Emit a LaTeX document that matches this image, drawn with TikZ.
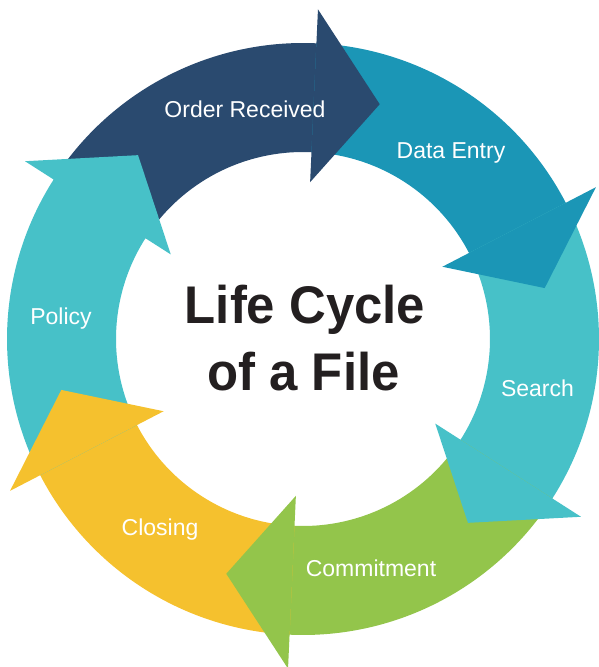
\documentclass[tikz,border=0pt]{standalone}
\usepackage{fontspec}
\setmainfont{Liberation Sans}
\newfontfamily\titlefont[FakeStretch=0.96]{Liberation Sans}
\begin{document}
\begin{tikzpicture}[x=1pt,y=1pt,
  steplabel/.style={text=white, anchor=base, inner sep=0pt,
    font=\fontsize{23}{26}\selectfont},
  titleline/.style={text=titleblack, anchor=base, inner sep=0pt,
    font=\titlefont\fontsize{53}{60}\selectfont\bfseries}]
\definecolor{orderblue}{HTML}{2A4A6F}
\definecolor{entryblue}{HTML}{1B96B6}
\definecolor{lightteal}{HTML}{47C1C8}
\definecolor{commitgreen}{HTML}{93C54B}
\definecolor{closeyellow}{HTML}{F5C12E}
\definecolor{titleblack}{HTML}{231F20}
\useasboundingbox (-303,-328) rectangle (296,339);

% ring geometry: outer / inner radius, barb radii, tip radius
\def\Rout{296}\def\Rin{187}
\def\Rbo{330}\def\Rbi{157}\def\Rtip{247}

% arc bodies: each runs from the previous segment's head base to a little
% past its own head base, so body and head join without a seam
\foreach \b/\c in {87.4/orderblue, 27.4/entryblue, -32.6/lightteal,
                   -92.6/commitgreen, -152.6/closeyellow, -212.6/lightteal}{
  \pgfmathsetmacro{\a}{\b+60}
  \pgfmathsetmacro{\e}{\b-1}
  \fill[\c] (\a:\Rout) arc[start angle=\a, end angle=\e, radius=\Rout]
     -- (\e:\Rin) arc[start angle=\e, end angle=\a, radius=\Rin] -- cycle;
}
% arrow heads, drawn over the start of the following segment
\foreach \b/\c in {87.4/orderblue, 27.4/entryblue, -32.6/lightteal,
                   -92.6/commitgreen, -152.6/closeyellow, -212.6/lightteal}{
  \pgfmathsetmacro{\t}{\b-15.5}
  \fill[\c] (\b:\Rbo) -- (\t:\Rtip) -- (\b:\Rbi) -- cycle;
}

% step labels
\node[steplabel] (order)  at (-58,221)  {Order Received};
\node[steplabel] (entry)  at (148,180)  {Data Entry};
\node[steplabel] (search) at (234.5,-57) {Search};
\node[steplabel] (commit) at (68,-237)  {Commitment};
\node[steplabel] (closing) at (-143,-196) {Closing};
\node[steplabel] (policy) at (-242,15)  {Policy};

% centre title
\node[titleline] (title1) at (2,16)   {Life Cycle};
\node[titleline] (title2) at (0.5,-51) {of a File};
\end{tikzpicture}
\end{document}
